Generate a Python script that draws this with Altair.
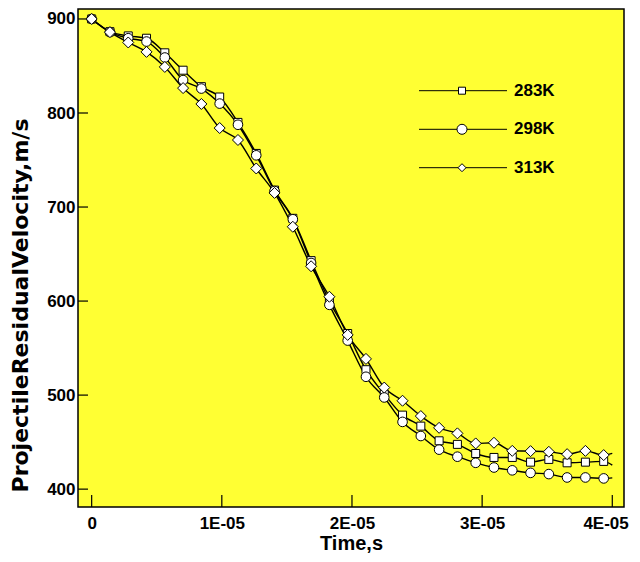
import altair as alt
import pandas as pd

# ---------------- data ----------------
series = ["283K", "298K", "313K"]
marker_shapes = ["square", "circle", "diamond"]

time_step = 1.405e-6
n_points = 29
times = [i * time_step for i in range(n_points)]
end_time = 4.0e-5

v283 = [900, 886.5, 882, 879.5, 864, 845.5, 828, 817, 790, 757,
        718, 688, 643, 600, 565.5, 527, 501, 478.7, 467, 451.4,
        447.6, 437.9, 433.7, 433.7, 428.7, 431.6, 428, 428.7, 429.5]
v298 = [900, 886, 879.5, 876, 859, 835, 826, 810, 787.5, 755,
        717, 687, 640.5, 596, 558, 519.5, 497.5, 471.5, 456.5, 442,
        434.5, 428, 423, 420, 417.3, 416, 412.4, 412.4, 411.4]
v313 = [900, 886, 875, 865, 849, 826.5, 809.6, 784, 771.3, 741,
        715, 679, 637, 604.6, 564, 538.5, 508, 494, 477.7, 465.2,
        459.3, 448.6, 449.3, 440.7, 440.4, 439.7, 437.2, 440.7, 436.2]
end_values = [425.5, 412.0, 438.0]

x_ticks = [0, 1e-5, 2e-5, 3e-5, 4e-5]
x_tick_labels = ["0", "1E-05", "2E-05", "3E-05", "4E-05"]
y_ticks = [400, 500, 600, 700, 800, 900]

# ---------------- tables ----------------
rows_pts = []
rows_lines = []
for s, vals, vend in zip(series, [v283, v298, v313], end_values):
    for t, v in zip(times, vals):
        rows_pts.append({"t": t, "v": v, "series": s})
        rows_lines.append({"t": t, "v": v, "series": s})
    rows_lines.append({"t": end_time, "v": vend, "series": s})
pts_df = pd.DataFrame(rows_pts)
lines_df = pd.DataFrame(rows_lines)

FONT = "Liberation Sans"
label_expr = "[" + ",".join("'%s'" % l for l in x_tick_labels) + "][round(datum.value*1e5)]"

x_scale = alt.Scale(domain=[-1.05e-6, 4.09e-5], nice=False, zero=False)
y_scale = alt.Scale(domain=[381, 910.6], nice=False, zero=False)

x_enc = alt.X("t:Q", scale=x_scale,
              axis=alt.Axis(values=x_ticks, labelExpr=label_expr, title="Time,s",
                            tickSize=0, domain=False, grid=False, labelPadding=8,
                            labelFlush=12.8, labelFlushOffset=16,
                            titleFontSize=20, titleY=42, titleBaseline="alphabetic"))
y_enc = alt.Y("v:Q", scale=y_scale,
              axis=alt.Axis(values=y_ticks, title="ProjectileResidualVelocity,m/s",
                            tickSize=0, domain=False, grid=False, labelPadding=3,
                            titleFont="DejaVu Sans", titleFontSize=22,
                            titleX=-46, titleY=296,
                            titleBaseline="bottom", titleAngle=270))

lines = alt.Chart(lines_df).mark_line(color="black", strokeWidth=1.4,
                                      interpolate="monotone").encode(
    x=x_enc, y=y_enc, detail="series:N")

points = alt.Chart(pts_df).mark_point(filled=True, fill="white", stroke="black",
                                      strokeWidth=1, opacity=1).encode(
    x=x_enc, y=y_enc,
    shape=alt.Shape("series:N", scale=alt.Scale(domain=series, range=marker_shapes), legend=None),
    size=alt.Size("series:N", scale=alt.Scale(domain=series, range=[64, 121, 100]), legend=None),
    order=alt.Order("series:N"))

xtick_layer = alt.Chart(pd.DataFrame({"t": x_ticks})).mark_rule(
    color="black", strokeWidth=1.2).encode(x=x_enc, y=alt.value(486), y2=alt.value(498))
ytick_layer = alt.Chart(pd.DataFrame({"v": y_ticks})).mark_rule(
    color="black", strokeWidth=1.2).encode(y=y_enc, x=alt.value(0), x2=alt.value(10))

legend_layers = []
legend_rows_y = [81.7, 120.3, 158.7]
legend_sizes = [49, 100, 64]
for s, shp, yy, sz in zip(series, marker_shapes, legend_rows_y, legend_sizes):
    d = alt.Data(values=[{"label": s}])
    legend_layers.append(alt.Chart(d).mark_rule(color="black", strokeWidth=1).encode(
        x=alt.value(341), x2=alt.value(429), y=alt.value(yy)))
    legend_layers.append(alt.Chart(d).mark_point(shape=shp, size=sz, filled=True, fill="white",
                                                 stroke="black", strokeWidth=1, opacity=1).encode(
        x=alt.value(384), y=alt.value(yy)))
    legend_layers.append(alt.Chart(d).mark_text(align="left", baseline="middle", font=FONT,
                                                fontWeight="bold", fontSize=17, color="black").encode(
        x=alt.value(436), y=alt.value(yy), text="label:N"))

chart = alt.layer(lines, xtick_layer, ytick_layer, points, *legend_layers).properties(
    width=546, height=498,
    autosize=alt.AutoSizeParams(type="none"),
    padding={"left": 70, "top": 1, "right": 8, "bottom": 47},
    background="white",
).configure_view(
    fill="#FFFF33", stroke="black", strokeWidth=1.5
).configure_axis(
    labelFont=FONT, labelFontWeight="bold", labelFontSize=17, labelColor="black",
    titleFont=FONT, titleFontWeight="bold", titleColor="black"
)

chart.save("out.html", embed_options={"renderer": "svg", "actions": False})
